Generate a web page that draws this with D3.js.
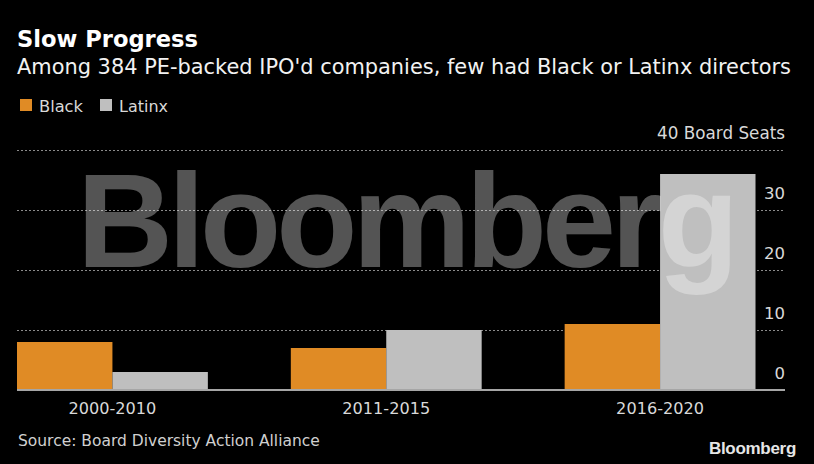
<!DOCTYPE html>
<html>
<head>
<meta charset="utf-8">
<script src="https://cdn.jsdelivr.net/npm/d3@7/dist/d3.min.js"></script>
<style>
  html, body { margin: 0; padding: 0; background: #000; }
  svg { display: block; }
  text { font-family: "DejaVu Sans", "Noto Sans", sans-serif; }
</style>
</head>
<body>
<svg id="chart" width="814" height="464"></svg>
<script>
// Chart data
var periods = ["2000-2010", "2011-2015", "2016-2020"];
var seriesNames = ["Black", "Latinx"];
var blackSeats = [8, 7, 11];
var latinxSeats = [3, 10, 36];
var yTicks = [0, 10, 20, 30, 40];

var colors = { "Black": "#e08b25", "Latinx": "#bfbfbf" };

var svg = d3.select("#chart");
var width = 814, height = 464;

svg.append("rect")
	.attr("width", width)
	.attr("height", height)
	.attr("fill", "#000");

// Scale font-size so that a text fills the given width
function fitWidth(sel, target) {
	let size = parseFloat(sel.style("font-size"));
	let len = sel.node().getComputedTextLength();
	if (len > 0) sel.style("font-size", (size * target / len).toFixed(2) + "px");
	return sel;
}

// Plot area
var left = 17, right = 785, plotTop = 150, plotBottom = 390;

var rows = periods.map((p, i) => ({ period: p, Black: blackSeats[i], Latinx: latinxSeats[i] }));

var x0 = d3.scaleBand()
	.domain(periods)
	.range([left, 755.5])
	.paddingInner(0.303)
	.paddingOuter(0);

var x1 = d3.scaleBand()
	.domain(seriesNames)
	.range([0, x0.bandwidth()])
	.padding(0);

var y = d3.scaleLinear()
	.domain([0, 40])
	.range([plotBottom, plotTop]);

// Gridlines
var grid = svg.append("g");
grid.selectAll("line")
	.data(yTicks.filter(d => d > 0))
	.enter()
	.append("line")
	.attr("x1", left)
	.attr("x2", right)
	.attr("y1", d => y(d) + 0.5)
	.attr("y2", d => y(d) + 0.5)
	.attr("stroke", "#8a8a8a")
	.attr("stroke-width", 1)
	.attr("stroke-dasharray", "2,2");

// Y axis labels (right side)
var yAxis = svg.append("g")
	.attr("transform", "translate(" + right + ",0)")
	.call(d3.axisRight(y)
		.tickValues(yTicks)
		.tickSize(0)
		.tickFormat(d => d === 40 ? "40 Board Seats" : d));
yAxis.select(".domain").remove();
yAxis.selectAll("text")
	.attr("x", 0)
	.attr("dy", "-0.68em")
	.attr("text-anchor", "end")
	.attr("fill", "#d9d9d9")
	.style("font-size", "16.5px")
	.style("font-family", "'DejaVu Sans', 'Noto Sans', sans-serif");
yAxis.selectAll("text").filter(d => d === 40).each(function() { fitWidth(d3.select(this), 128); });

// Bars
var groups = svg.append("g")
	.selectAll("g")
	.data(rows)
	.enter()
	.append("g")
	.attr("transform", d => "translate(" + x0(d.period) + ",0)");

groups.selectAll("rect")
	.data(d => seriesNames.map(k => ({ key: k, value: d[k] })))
	.enter()
	.append("rect")
	.attr("x", d => x1(d.key))
	.attr("width", x1.bandwidth())
	.attr("y", d => y(d.value))
	.attr("height", d => y(0) - y(d.value))
	.attr("fill", d => colors[d.key]);

// Baseline
svg.append("line")
	.attr("x1", left)
	.attr("x2", right)
	.attr("y1", y(0))
	.attr("y2", y(0))
	.attr("stroke", "#a6a6a6")
	.attr("stroke-width", 2);

// Category labels
var xAxis = svg.append("g")
	.attr("transform", "translate(0," + y(0) + ")")
	.call(d3.axisBottom(x0).tickSize(0));
xAxis.select(".domain").remove();
xAxis.selectAll("text")
	.attr("y", 0)
	.attr("dy", "23.5px")
	.attr("fill", "#d9d9d9")
	.style("font-size", "16.5px")
	.style("font-family", "'DejaVu Sans', 'Noto Sans', sans-serif")
	.each(function() { fitWidth(d3.select(this), 88); });

// Watermark
svg.append("text")
	.attr("x", 77)
	.attr("y", 267)
	.attr("fill", "#fff")
	.attr("fill-opacity", 0.33)
	.style("font-family", "'Liberation Sans', Arial, sans-serif")
	.style("font-weight", "bold")
	.style("font-size", "133px")
	.style("letter-spacing", "-5px")
	.text("Bloomberg");

// Title and subtitle
fitWidth(svg.append("text")
	.attr("x", 17)
	.attr("y", 47)
	.attr("fill", "#fff")
	.style("font-weight", "bold")
	.style("font-size", "20px")
	.text("Slow Progress"), 181);

fitWidth(svg.append("text")
	.attr("x", 17)
	.attr("y", 73.5)
	.attr("fill", "#f2f2f2")
	.style("font-size", "19.5px")
	.text("Among 384 PE-backed IPO'd companies, few had Black or Latinx directors"), 774);

// Legend
var legendX = [20, 100];
var legendW = [44, 49];
var legend = svg.append("g");
legend.selectAll("rect")
	.data(seriesNames)
	.enter()
	.append("rect")
	.attr("x", (d, i) => legendX[i])
	.attr("y", 99)
	.attr("width", 12)
	.attr("height", 12)
	.attr("fill", d => colors[d]);

legend.selectAll("text")
	.data(seriesNames)
	.enter()
	.append("text")
	.attr("x", (d, i) => legendX[i] + 19)
	.attr("y", 111.5)
	.attr("fill", "#d9d9d9")
	.style("font-size", "16.5px")
	.text(d => d)
	.each(function(d, i) { fitWidth(d3.select(this), legendW[i]); });

// Source and logo
fitWidth(svg.append("text")
	.attr("x", 18)
	.attr("y", 445.5)
	.attr("fill", "#d0d0d0")
	.style("font-size", "16px")
	.text("Source: Board Diversity Action Alliance"), 302);

svg.append("text")
	.attr("x", 796)
	.attr("y", 454)
	.attr("text-anchor", "end")
	.attr("fill", "#e6e6e6")
	.style("font-family", "'Liberation Sans', Arial, sans-serif")
	.style("font-weight", "bold")
	.style("font-size", "17px")
	.style("letter-spacing", "-0.3px")
	.text("Bloomberg");
</script>
</body>
</html>
